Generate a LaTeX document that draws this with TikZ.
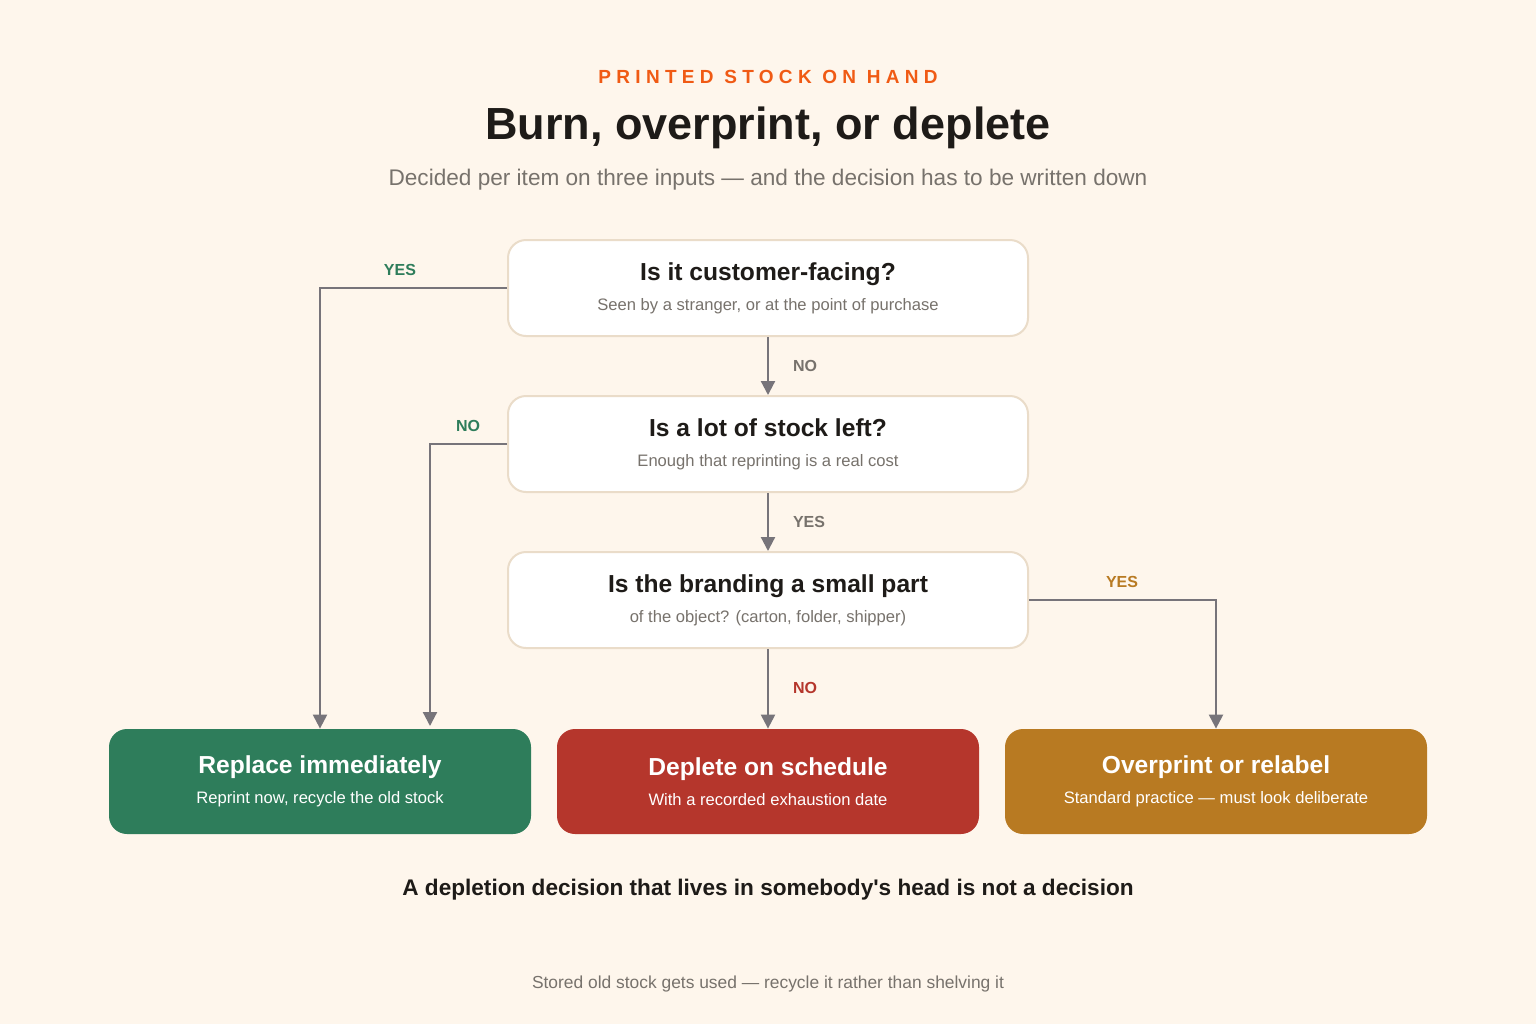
\documentclass[tikz,border=0pt]{standalone}
\usepackage{fontspec}
\setmainfont{Liberation Sans}
\usetikzlibrary{positioning,arrows.meta}
\definecolor{bg}{HTML}{FEF6EC}
\definecolor{edge}{HTML}{EADCC9}
\definecolor{wire}{HTML}{77747A}
\definecolor{ink}{HTML}{1E1B18}
\definecolor{soft}{HTML}{77726C}
\definecolor{tag}{HTML}{F05A14}
\definecolor{keep}{HTML}{2E7D5B}
\definecolor{burn}{HTML}{B5362C}
\definecolor{over}{HTML}{B87A22}
\tikzset{
  question/.style={draw=edge, line width=1pt, fill=white, rounded corners=9pt,
    minimum width=260pt, minimum height=48pt, align=center, inner sep=0pt},
  outcome/.style={fill=#1, rounded corners=9pt, minimum width=211pt,
    minimum height=52.5pt, align=center, inner sep=0pt, text=white},
  flow/.style={draw=wire, line width=1.1pt, -{Triangle[length=7pt,width=7pt]}},
  answer/.style={font=\bfseries\fontsize{8}{9}\selectfont, text=#1}
}
\begin{document}
\begin{tikzpicture}[x=0.5pt,y=-0.5pt]
\fill[bg] (0,0) rectangle (1536,1024);

% heading
\node (tag) at (768,77) {\fontsize{9.5}{11}\selectfont\bfseries\addfontfeature{LetterSpace=28}\color{tag}PRINTED STOCK ON HAND};
\node[text=ink] (title) at (768,128) {\fontsize{22.5}{27}\selectfont\bfseries Burn, overprint, or deplete};
\node[text=soft] (sub) at (768,180) {\fontsize{11.3}{13}\selectfont Decided per item on three inputs — and the decision has to be written down};

% questions
\node[question] (q1) at (768,288) {{\fontsize{12.3}{14}\selectfont\bfseries\color{ink}Is it customer-facing?}\\[3pt]
  {\fontsize{8.3}{10}\selectfont\color{soft}Seen by a stranger, or at the point of purchase}};
\node[question] (q2) at (768,444) {{\fontsize{12.3}{14}\selectfont\bfseries\color{ink}Is a lot of stock left?}\\[3pt]
  {\fontsize{8.3}{10}\selectfont\color{soft}Enough that reprinting is a real cost}};
\node[question] (q3) at (768,600) {{\fontsize{12.3}{14}\selectfont\bfseries\color{ink}Is the branding a small part}\\[3pt]
  {\fontsize{8.3}{10}\selectfont\color{soft}of the object? (carton, folder, shipper)}};

% outcomes
\node[outcome=keep] (replace) at (320,781.5) {{\fontsize{12.3}{14}\selectfont\bfseries Replace immediately}\\[3pt]
  {\fontsize{8.3}{10}\selectfont Reprint now, recycle the old stock}};
\node[outcome=burn] (deplete) at (768,781.5) {{\fontsize{12.3}{14}\selectfont\bfseries Deplete on schedule}\\[3pt]
  {\fontsize{8.3}{10}\selectfont With a recorded exhaustion date}};
\node[outcome=over] (relabel) at (1216,781.5) {{\fontsize{12.3}{14}\selectfont\bfseries Overprint or relabel}\\[3pt]
  {\fontsize{8.3}{10}\selectfont Standard practice — must look deliberate}};

% connectors
\coordinate (c1) at (430,444);
\draw[flow] (q1.west) -| (replace.north);
\draw[flow] (q2.west) -- (c1) -- (430,726);
\draw[flow] (q1.south) -- (q2.north);
\draw[flow] (q2.south) -- (q3.north);
\draw[flow] (q3.south) -- (deplete.north);
\draw[flow] (q3.east) -| (relabel.north);

% answers
\node[answer=keep] (a1) at (400,270) {YES};
\node[answer=keep] (a2) at (468,426) {NO};
\node[answer=soft] (a3) at (805,366) {NO};
\node[answer=soft] (a4) at (809,522) {YES};
\node[answer=burn] (a5) at (805,688) {NO};
\node[answer=over] (a6) at (1122,582) {YES};

% footer
\node[text=ink] (rule) at (768,890) {\fontsize{11.3}{13}\selectfont\bfseries A depletion decision that lives in somebody\textquotesingle s head is not a decision};
\node[text=soft] (note) at (768,984) {\fontsize{8.7}{10}\selectfont Stored old stock gets used — recycle it rather than shelving it};
\end{tikzpicture}
\end{document}
